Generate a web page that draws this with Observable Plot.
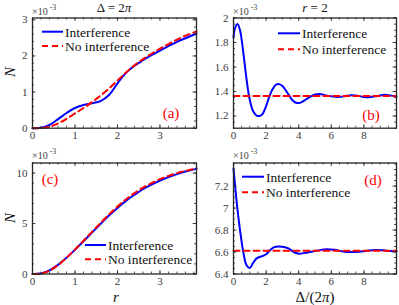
<!DOCTYPE html>
<html><head><meta charset="utf-8">
<script src="https://cdn.jsdelivr.net/npm/d3@7"></script>
<script src="https://cdn.jsdelivr.net/npm/@observablehq/plot@0.6"></script>
<style>
body{margin:0;background:#fff;}
#wrap{position:relative;width:399px;height:305px;overflow:hidden;background:#fff;font-family:"Liberation Serif","Times New Roman","DejaVu Serif",serif;}
#wrap svg.pl{position:absolute;}
#wrap svg text{font-family:"Liberation Serif","Times New Roman","DejaVu Serif",serif;}
</style></head><body><div id="wrap"></div>
<script>
// ---------- data (values in units of 1e-3) ----------
// panel (a): Delta = 2 pi, N vs r
const rA = [0,0.2,0.4,0.6,0.8,1,1.2,1.4,1.6,1.8,2,2.2,2.4,2.6,2.8,3,3.2,3.4,3.6,3.86];
const interfA = [0,0.01,0.09,0.25,0.42,0.56,0.64,0.69,0.75,0.92,1.24,1.53,1.73,1.88,2.02,2.15,2.27,2.39,2.49,2.62];
const noInterfA = [0,0.005,0.04,0.13,0.26,0.41,0.56,0.72,0.9,1.1,1.32,1.54,1.74,1.91,2.06,2.2,2.33,2.45,2.56,2.68];
// panel (b): r = 2, N vs Delta/(2 pi)
const dB = [0,0.1,0.25,0.4,0.6,0.8,1,1.2,1.4,1.6,1.8,2,2.2,2.4,2.6,2.8,3,3.2,3.4,3.6,3.8,4,4.2,4.5,5,5.3,5.6,6,6.4,6.8,7.2,7.6,8,8.3,8.7,9.2,9.6,10];
const interfB = [1.84,1.92,1.95,1.9,1.72,1.5,1.33,1.24,1.205,1.2,1.22,1.28,1.36,1.42,1.455,1.46,1.445,1.41,1.37,1.33,1.31,1.305,1.315,1.34,1.375,1.38,1.37,1.36,1.355,1.36,1.37,1.365,1.355,1.353,1.36,1.372,1.368,1.355];
const dBNo = [0,10];
const noInterfB = [1.362,1.362];
// panel (c): N vs r
const rC = [0,0.2,0.4,0.6,0.8,1,1.2,1.4,1.6,1.8,2,2.2,2.4,2.6,2.8,3,3.2,3.4,3.6,3.86];
const interfC = [0,0.05,0.35,0.9,1.6,2.4,3.25,4.1,4.95,5.8,6.55,7.25,7.85,8.4,8.85,9.25,9.6,9.9,10.15,10.42];
const noInterfC = [0,0.05,0.33,0.88,1.6,2.42,3.3,4.18,5.05,5.9,6.68,7.4,8.02,8.55,9,9.4,9.72,10,10.22,10.48];
// panel (d): N vs Delta/(2 pi)
const dD = [0,0.1,0.25,0.4,0.6,0.8,1,1.2,1.4,1.6,1.8,2,2.2,2.5,2.8,3.1,3.4,3.7,4,4.3,4.7,5.2,5.7,6.2,6.7,7.2,7.7,8.2,8.7,9.2,9.6,10];
const interfD = [7.36,7.2,6.98,6.8,6.6,6.48,6.455,6.5,6.54,6.555,6.565,6.58,6.61,6.645,6.65,6.645,6.63,6.6,6.585,6.59,6.6,6.615,6.625,6.62,6.605,6.6,6.603,6.612,6.618,6.615,6.61,6.608];
const dDNo = [0,10];
const noInterfD = [6.612,6.612];

// tick labels
const xTicksR = [0,1,2,3];
const xTicksD = [0,2,4,6,8];
const yTicksA = [0,1,2,3];
const yTicksB = [1.2,1.4,1.6,1.8,2];
const yTicksC = [0,5,10];
const yTicksD = [6.4,6.6,6.8,7,7.2];

const BLUE = "#0000ff", RED = "#ff0000", AX = "#262626";
const FONT = '"Liberation Serif","Times New Roman","DejaVu Serif",serif';
const wrap = document.getElementById("wrap");

function range(a, b, s) { return d3.range(Math.round((b - a) / s) + 1).map(i => +(a + i * s).toFixed(6)); }

function panel(o) {
  const innerW = o.width - o.ml - o.mr, innerH = o.height - o.mt - o.mb;
  const maj = 3.5, mnr = 2;
  const tk = {stroke: AX, strokeWidth: 0.8};
  const svg = Plot.plot({
    width: o.width, height: o.height,
    marginTop: o.mt, marginRight: o.mr, marginBottom: o.mb, marginLeft: o.ml,
    x: {domain: o.xDomain}, y: {domain: o.yDomain},
    style: {fontFamily: FONT, fontSize: "11px", color: "#3a3a3a", background: "transparent", overflow: "visible"},
    marks: [
      Plot.axisX(o.xTicks, {tickSize: 0, tickPadding: 3, label: null, tickFormat: d => String(d), fontSize: 11}),
      Plot.axisY(o.yTicks, {tickSize: 0, tickPadding: 5, label: null, tickFormat: d => String(d), fontSize: 11}),
      Plot.line(o.xs, {x: o.xs, y: o.blue, stroke: BLUE, strokeWidth: 2, curve: "catmull-rom"}),
      Plot.line(o.xr, {x: o.xr, y: o.red, stroke: RED, strokeWidth: 2, strokeDasharray: "6,4", curve: "catmull-rom"}),
      Plot.tickX(o.xTicks, {x: d => d, insetTop: innerH - maj, ...tk}),
      Plot.tickX(o.xTicks, {x: d => d, insetBottom: innerH - maj, ...tk}),
      Plot.tickX(o.xMinor, {x: d => d, insetTop: innerH - mnr, ...tk}),
      Plot.tickX(o.xMinor, {x: d => d, insetBottom: innerH - mnr, ...tk}),
      Plot.tickY(o.yTicks, {y: d => d, insetRight: innerW - maj, ...tk}),
      Plot.tickY(o.yTicks, {y: d => d, insetLeft: innerW - maj, ...tk}),
      Plot.tickY(o.yMinor, {y: d => d, insetRight: innerW - mnr, ...tk}),
      Plot.tickY(o.yMinor, {y: d => d, insetLeft: innerW - mnr, ...tk}),
      Plot.frame({stroke: AX, strokeWidth: 1.3})
    ]
  });
  svg.classList.add("pl");
  svg.style.left = o.left + "px";
  svg.style.top = o.top + "px";
  wrap.appendChild(svg);
}

panel({left: 0, top: 0, width: 200, height: 150, mt: 17.5, mr: 4, mb: 22.3, ml: 32,
  xDomain: [0, 3.86], yDomain: [0, 3.05], xTicks: xTicksR, yTicks: yTicksA,
  xMinor: range(0, 3.8, 0.2), yMinor: range(0, 3, 0.2),
  xs: rA, blue: interfA, xr: rA, red: noInterfA});
panel({left: 200, top: 0, width: 199, height: 150, mt: 17.5, mr: 3, mb: 22.3, ml: 33,
  xDomain: [0, 10], yDomain: [1.1, 2.0], xTicks: xTicksD, yTicks: yTicksB,
  xMinor: range(0, 10, 0.5), yMinor: range(1.1, 2.0, 0.05),
  xs: dB, blue: interfB, xr: dBNo, red: noInterfB});
panel({left: 0, top: 150, width: 200, height: 155, mt: 12.5, mr: 4, mb: 31.5, ml: 32,
  xDomain: [0, 3.86], yDomain: [0, 11], xTicks: xTicksR, yTicks: yTicksC,
  xMinor: range(0, 3.8, 0.2), yMinor: range(0, 11, 1),
  xs: rC, blue: interfC, xr: rC, red: noInterfC});
panel({left: 200, top: 150, width: 199, height: 155, mt: 12.5, mr: 3, mb: 31.5, ml: 33,
  xDomain: [0, 10], yDomain: [6.4, 7.41], xTicks: xTicksD, yTicks: yTicksD,
  xMinor: range(0, 10, 0.5), yMinor: range(6.4, 7.4, 0.05),
  xs: dD, blue: interfD, xr: dDNo, red: noInterfD});

// ---------- overlay text & legends ----------
const ov = d3.select(wrap).append("svg")
  .attr("width", 399).attr("height", 305)
  .style("position", "absolute").style("left", 0).style("top", 0)
  .attr("font-family", FONT);

function text(x, y, segs, {size = 13, fill = "#111", anchor = "middle", rotate = 0} = {}) {
  const t = ov.append("text").attr("x", x).attr("y", y)
    .attr("text-anchor", anchor).attr("dominant-baseline", "central")
    .attr("font-family", FONT)
    .attr("font-size", size).attr("fill", fill);
  if (rotate) t.attr("transform", `rotate(${rotate},${x},${y})`);
  segs.forEach(s => {
    const sp = t.append("tspan").text(s.t);
    if (s.i) sp.attr("font-style", "italic");
    if (s.size) sp.attr("font-size", s.size);
    if (s.dy) sp.attr("dy", s.dy);
  });
  return t;
}

// titles
text(114, 7, [{t: "Δ = 2"}, {t: "π", i: 1}], {size: 13});
text(315, 7, [{t: "r", i: 1}, {t: " = 2"}], {size: 13});
// y labels
text(10, 72, [{t: "N", i: 1}], {size: 15, rotate: -90});
text(10, 218, [{t: "N", i: 1}], {size: 15, rotate: -90});
// x labels
text(116, 297, [{t: "r", i: 1}], {size: 15});
text(315, 297, [{t: "Δ/(2"}, {t: "π", i: 1}, {t: ")"}], {size: 15});
// exponent labels
[[32, 10.5], [233, 10.5], [32, 155], [233, 155]].forEach(([x, y]) => {
  text(x, y, [{t: "×10"}, {t: " -3", size: 8, dy: -4}], {size: 10, fill: "#444", anchor: "start"});
});
// panel labels
text(171, 113, [{t: "(a)"}], {size: 15, fill: RED});
text(371, 115, [{t: "(b)"}], {size: 15, fill: RED});
text(50, 179, [{t: "(c)"}], {size: 15, fill: RED});
text(373, 180, [{t: "(d)"}], {size: 15, fill: RED});

// legends
function legend(x0, x1, yb, yr) {
  ov.append("line").attr("x1", x0).attr("x2", x1).attr("y1", yb).attr("y2", yb)
    .attr("stroke", BLUE).attr("stroke-width", 2);
  ov.append("line").attr("x1", x0).attr("x2", x1).attr("y1", yr).attr("y2", yr)
    .attr("stroke", RED).attr("stroke-width", 2).attr("stroke-dasharray", "6,4");
  text(x1 + 2, yb, [{t: "Interference"}], {size: 13.5, anchor: "start"});
  text(x1 + 2, yr, [{t: "No interference"}], {size: 13.5, anchor: "start"});
}
legend(42, 63, 31.7, 46);
legend(278, 300, 33.3, 49.3);
legend(85, 106, 245, 259.3);
legend(242, 264, 176.7, 192.3);
</script></body></html>
